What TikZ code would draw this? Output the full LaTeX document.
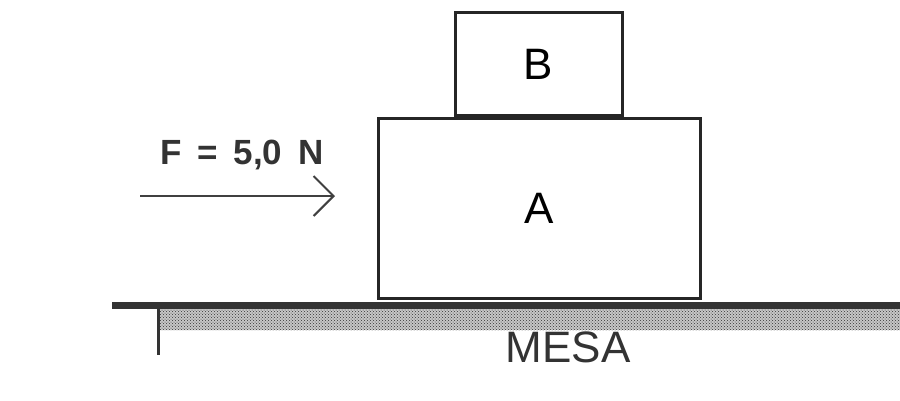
\documentclass[tikz,border=0pt]{standalone}
\usepackage{fontspec}
\setmainfont{Liberation Sans}
\usetikzlibrary{arrows.meta,patterns}

\begin{document}
\begin{tikzpicture}[x=1pt,y=-1pt]
                        \tikzstyle{bloco}=[draw=black!85,line width=3pt,inner sep=0pt,font=\fontsize{44}{44}\selectfont]
                        \tikzstyle{forca}=[draw=black!75,line width=2pt,-{Straight Barb[length=20pt,width=40pt,line width=2pt]}]
                        \useasboundingbox (0,0) rectangle (900,400);
                        % table
                        \fill[black!22] (160,309) rectangle (900,330);
                        \fill[pattern=crosshatch dots,pattern color=black!80] (160,309) rectangle (900,330);
                        \draw[black!80,line width=7pt] (112,305) -- (900,305);
                        \draw[black!80,line width=3pt] (158,305) -- (158,355);
                        \node[font=\fontsize{44}{44}\selectfont,text=black!80] (mesa) at (568,347) {MESA};
                        % blocks
                        \node[bloco,minimum width=322pt,minimum height=180pt] (boxA) at (539,208) {A};
                        \node[bloco,minimum width=167pt,minimum height=103pt] (boxB) at (538.5,64) {B};
                        % force
                        \coordinate (f0) at (140,196);
                        \coordinate (f1) at (335,196);
                        \draw[forca] (f0) -- (f1);
                        \node[font=\bfseries\fontsize{35}{35}\selectfont,text=black!80] (label) at (242,155) {F\hspace{6pt} =\hspace{6pt} 5,0\hspace{6pt} N};
                    \end{tikzpicture}
\end{document}
